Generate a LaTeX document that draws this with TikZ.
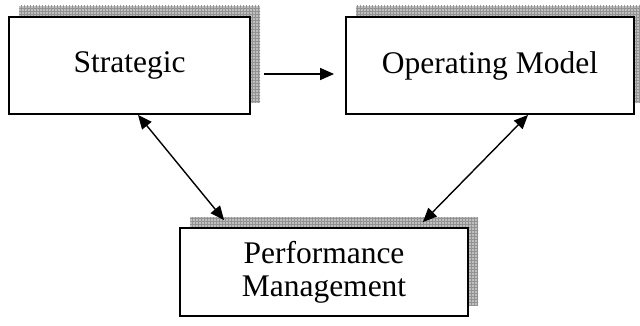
\documentclass[tikz,border=0pt]{standalone}
\usepackage{fontspec}
\setmainfont{Liberation Serif}
\usetikzlibrary{shadows,patterns,arrows.meta,calc}
\begin{document}
\begin{tikzpicture}[x=1pt,y=-1pt,
  box/.style={draw=black, line width=1.8pt, fill=white, inner sep=0pt,
    font=\fontsize{31.5}{33}\selectfont, align=center,
    general shadow={shadow xshift=10pt, shadow yshift=11pt, fill=gray!50,
      postaction={pattern=grid, pattern color=gray!85}}},
  link/.style={line width=1.4pt, -{Triangle[length=14pt,width=12pt]}},
  dlink/.style={line width=1.4pt, {Triangle[length=14pt,width=12pt]}-{Triangle[length=14pt,width=12pt]}}]
\useasboundingbox (0,0) rectangle (640,326);
\node[box, minimum width=241pt, minimum height=97pt] (S) at (129.5,65.5) {\raisebox{-2pt}{Strategic}};
\node[box, minimum width=288pt, minimum height=97pt] (O) at (490,65.5) {\raisebox{-2pt}{Operating Model}};
\node[box, minimum width=288pt, minimum height=88pt] (P) at (324,272) {Performance\\Management};
\draw[link, shorten <=13pt, shorten >=11pt] ([yshift=-8.5pt]S.east) -- ([yshift=-8.5pt]O.west);
\draw[dlink] ([xshift=8.5pt]S.south) -- ($(P.north west)+(45,-7)$);
\draw[dlink] ([xshift=38pt]O.south) -- ($(P.north east)+(-46,-5)$);
\end{tikzpicture}
\end{document}
